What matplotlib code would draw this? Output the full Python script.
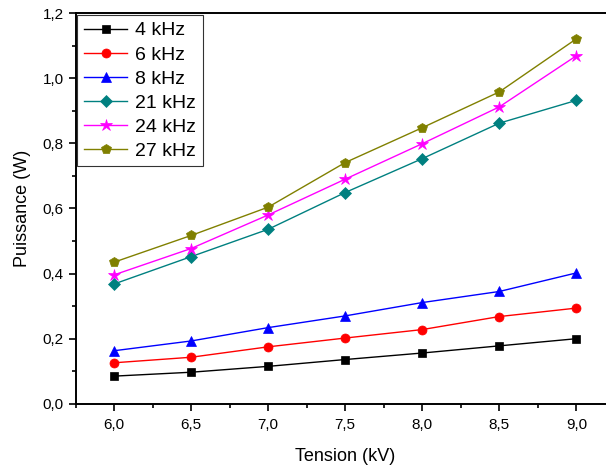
import matplotlib.pyplot as plt
from matplotlib.ticker import MultipleLocator, FuncFormatter

plt.rcParams['font.family'] = ['Liberation Sans', 'DejaVu Sans']

tension = [6.0, 6.5, 7.0, 7.5, 8.0, 8.5, 9.0]
p_4k = [0.085, 0.097, 0.115, 0.136, 0.156, 0.178, 0.200]
p_6k = [0.126, 0.143, 0.175, 0.202, 0.228, 0.268, 0.294]
p_8k = [0.163, 0.193, 0.234, 0.270, 0.311, 0.345, 0.402]
p_21k = [0.368, 0.452, 0.536, 0.649, 0.753, 0.862, 0.932]
p_24k = [0.396, 0.477, 0.580, 0.690, 0.799, 0.912, 1.069]
p_27k = [0.435, 0.517, 0.604, 0.741, 0.848, 0.958, 1.121]

labels = ['4 kHz', '6 kHz', '8 kHz', '21 kHz', '24 kHz', '27 kHz']
series = [p_4k, p_6k, p_8k, p_21k, p_24k, p_27k]
colors = ['#000000', '#ff0000', '#0000ff', '#008080', '#ff00ff', '#808000']
markers = ['s', 'o', '^', 'D', '*', 'p']
msizes = [6, 6.5, 7.5, 6, 9, 7.5]

fig = plt.figure(figsize=(6.06, 4.69), dpi=100)
ax = fig.add_axes([0.1246, 0.139, 0.890, 0.833])

for y, lab, c, m, ms in zip(series, labels, colors, markers, msizes):
    ax.plot(tension, y, color=c, marker=m, markersize=ms, linewidth=1,
            markeredgewidth=0.5, label=lab)

ax.set_xlim(5.75, 9.25)
ax.set_ylim(0, 1.2)
ax.xaxis.set_major_locator(MultipleLocator(0.5))
ax.xaxis.set_minor_locator(MultipleLocator(0.25))
ax.yaxis.set_major_locator(MultipleLocator(0.2))
ax.yaxis.set_minor_locator(MultipleLocator(0.1))
comma = FuncFormatter(lambda v, pos: f'{v:.1f}'.replace('.', ','))
ax.xaxis.set_major_formatter(comma)
ax.yaxis.set_major_formatter(comma)

for s in ax.spines.values():
    s.set_linewidth(1.4)
ax.tick_params(which='major', direction='out', length=5, width=1.2,
               labelsize=11, top=False, right=False)
ax.tick_params(which='minor', direction='out', length=3, width=1.2,
               top=False, right=False)
ax.tick_params(axis='x', pad=5)

ax.set_xlabel('Tension (kV)', fontsize=13, labelpad=12)
ax.set_ylabel('Puissance (W)', fontsize=13, labelpad=8)

leg = ax.legend(loc='upper left', fontsize=14, frameon=True, fancybox=False,
                edgecolor='black', borderaxespad=0.1, handlelength=2.2,
                labelspacing=0.33, borderpad=0.35, handletextpad=0.4)
leg.get_frame().set_linewidth(0.8)

fig.savefig('out.png', dpi=100)
